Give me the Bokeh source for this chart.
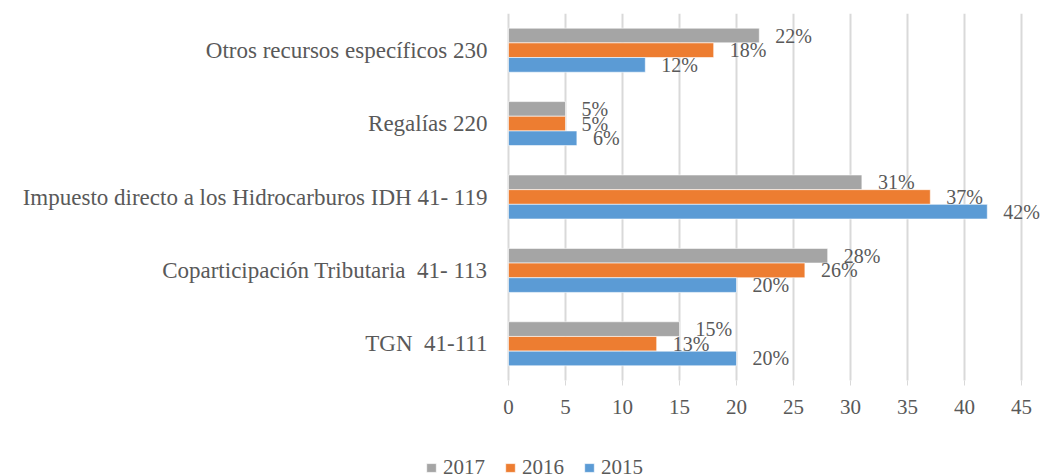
from bokeh.plotting import figure
from bokeh.models import Legend, LegendItem, FixedTicker, ColumnDataSource, LabelSet
from bokeh.transform import dodge
from bokeh.embed import file_html
from bokeh.resources import INLINE

categories = ["TGN\u00a0 41-111", "Coparticipación Tributaria\u00a0 41- 113",
              "Impuesto directo a los Hidrocarburos IDH 41- 119",
              "Regalías 220", "Otros recursos específicos 230"]
years = ["2017", "2016", "2015"]
v2017 = [15, 28, 31, 5, 22]
v2016 = [13, 26, 37, 5, 18]
v2015 = [20, 20, 42, 6, 12]
ticks = [0, 5, 10, 15, 20, 25, 30, 35, 40, 45]

colors = {"2017": "#a5a5a5", "2016": "#ed7d31", "2015": "#5b9bd5"}
offsets = {"2017": 0.2, "2016": 0.0, "2015": -0.2}
series = {"2017": v2017, "2016": v2016, "2015": v2015}

FONT = "Liberation Serif"
TXT = "#595959"

ypos = list(range(len(categories)))
PX = 513 / 45.0          # pixels per unit on x
ROW = 367 / len(categories)  # pixels per category row
y_lo = -0.5 - 96 / ROW
y_hi = len(categories) - 0.5

p = figure(x_range=(-83 / PX, 534 / PX), y_range=(y_lo, y_hi),
           frame_width=617, frame_height=463,
           min_border_left=425, min_border_right=0, min_border_top=13, min_border_bottom=0,
           output_backend="svg", toolbar_location=None)
p.outline_line_color = None
p.xgrid.grid_line_color = None
p.ygrid.grid_line_color = None

# vertical grid lines at the tick values, over the category area only
p.segment(x0=ticks, x1=ticks, y0=[-0.5] * len(ticks), y1=[y_hi] * len(ticks),
          line_color="#d9d9d9", line_width=2)

renderers = {}
for yr in years:
    src = ColumnDataSource(dict(y=ypos, val=series[yr], lbl=[f"{v}%" for v in series[yr]]))
    r = p.hbar(y=dodge("y", offsets[yr]), right="val", left=0, height=0.2,
               source=src, fill_color=colors[yr], line_color="white", line_width=0.6)
    renderers[yr] = r
    labels = LabelSet(x="val", y=dodge("y", offsets[yr]), text="lbl", source=src,
                      x_offset=16, text_baseline="middle", text_align="left",
                      text_font=FONT, text_font_size="20px", text_color=TXT)
    p.add_layout(labels)

p.xaxis.ticker = FixedTicker(ticks=ticks)
p.xaxis.fixed_location = -0.5
p.xaxis.axis_line_color = None
p.xaxis.major_tick_out = 5
p.xaxis.major_tick_in = 0
p.xaxis.major_tick_line_color = "#d9d9d9"
p.xaxis.minor_tick_line_color = None
p.xaxis.major_label_standoff = 14
p.xaxis.major_label_text_font = FONT
p.xaxis.major_label_text_font_size = "21px"
p.xaxis.major_label_text_color = TXT

p.yaxis.ticker = FixedTicker(ticks=ypos)
p.yaxis.major_label_overrides = {i: c for i, c in zip(ypos, categories)}
p.yaxis.axis_line_color = None
p.yaxis.major_tick_line_color = None
p.yaxis.minor_tick_line_color = None
p.yaxis.major_tick_out = 0
p.yaxis.major_tick_in = 0
p.yaxis.major_label_standoff = -62
p.yaxis.major_label_text_font = FONT
p.yaxis.major_label_text_font_size = "23px"
p.yaxis.major_label_text_color = TXT

legend = Legend(items=[LegendItem(label=yr, renderers=[renderers[yr]]) for yr in years],
                orientation="horizontal", location=(0, -4),
                label_text_font=FONT, label_text_font_size="21px", label_text_color=TXT,
                glyph_width=12, glyph_height=11, label_height=16, spacing=19, label_standoff=6,
                border_line_color=None, background_fill_alpha=0, margin=0, padding=0)
p.add_layout(legend, "center")

open("out.html", "w").write(file_html(p, INLINE))
